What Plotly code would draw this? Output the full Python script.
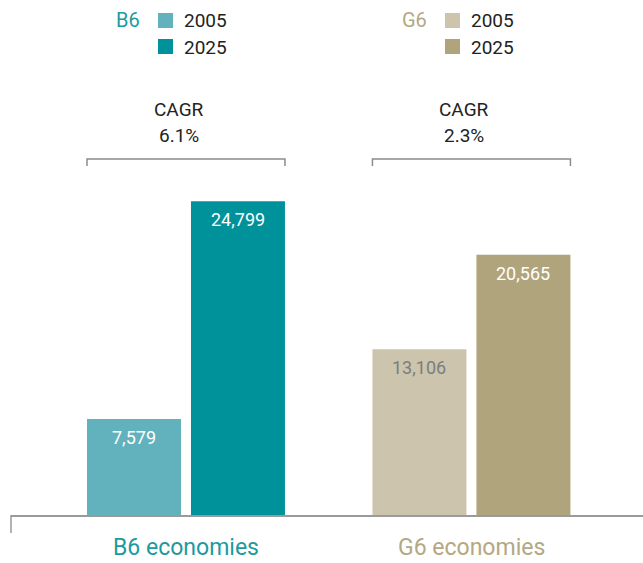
import plotly.graph_objects as go

# ---- data ----
groups = ["B6 economies", "G6 economies"]
group_keys = ["B6", "G6"]
years = ["2005", "2025"]
gdp_2005 = [7579, 13106]
gdp_2025 = [24799, 20565]
cagr = ["6.1%", "2.3%"]

# ---- styling ----
colors_2005 = ["#61b2bc", "#ccc4ac"]
colors_2025 = ["#00929b", "#b0a47c"]
group_text_colors = ["#1b9aa2", "#b3a883"]
label_colors_2005 = ["#ffffff", "#7d7d7d"]
label_colors_2025 = ["#ffffff", "#ffffff"]

W, H = 643, 563
M_L, M_R, M_T, M_B = 11, 0, 0, 48
PLOT_W = W - M_L - M_R
PLOT_H = H - M_T - M_B
X_RANGE = [-0.613, 1.601]
Y_RANGE = [0, 40700]
BARGAP = 0.2715
BARGROUPGAP = 0.096

NUM_FONT = "Roboto, Arial, sans-serif"
CAT_FONT = "Roboto, Arial, sans-serif"
AXIS_GREY = "#9a9a9a"


def px_x(p):
    """page pixel (from left) -> paper x"""
    return (p - M_L) / PLOT_W


def px_y(p):
    """page pixel (from top) -> paper y"""
    return (H - M_B - p) / PLOT_H


fig = go.Figure()
fig.add_trace(go.Bar(x=[0, 1], y=gdp_2005, name=years[0],
                     marker=dict(color=colors_2005, line=dict(width=0)),
                     hoverinfo="skip"))
fig.add_trace(go.Bar(x=[0, 1], y=gdp_2025, name=years[1],
                     marker=dict(color=colors_2025, line=dict(width=0)),
                     hoverinfo="skip"))

slot = (1 - BARGAP) / 2                 # one bar slot in category units
outer = slot * (1 - BARGROUPGAP / 2)    # group centre -> outer bar edge

annotations = []
shapes = []

for i, key in enumerate(group_keys):
    # value labels near the top of each bar
    for off, vals, cols in ((-slot / 2, gdp_2005, label_colors_2005),
                            (slot / 2, gdp_2025, label_colors_2025)):
        annotations.append(dict(
            x=i + off, y=vals[i], xref="x", yref="y",
            text=f"{vals[i]:,}", showarrow=False,
            yanchor="top", xanchor="center", yshift=-6,
            font=dict(family=NUM_FONT, size=18, color=cols[i])))

    # category label under the axis
    annotations.append(dict(
        x=i, y=px_y(547), xref="x", yref="paper",
        text=groups[i], showarrow=False, yanchor="middle", xanchor="center",
        font=dict(family=CAT_FONT, size=23, color=group_text_colors[i])))

    # CAGR bracket spanning the group
    y_br = px_y(159)
    y_tick = px_y(166)
    shapes.append(dict(
        type="path", xref="x", yref="paper",
        path=(f"M {i - outer},{y_tick} L {i - outer},{y_br} "
              f"L {i + outer},{y_br} L {i + outer},{y_tick}"),
        line=dict(color="#8c8c8c", width=1.5)))
    annotations.append(dict(
        x=i, y=px_y(109), xref="x", yref="paper", xshift=-7,
        text="CAGR", showarrow=False, yanchor="middle", xanchor="center",
        font=dict(family=NUM_FONT, size=19, color="#222222")))
    annotations.append(dict(
        x=i, y=px_y(135), xref="x", yref="paper", xshift=-7,
        text=cagr[i], showarrow=False, yanchor="middle", xanchor="center",
        font=dict(family=NUM_FONT, size=19, color="#222222")))

# custom legend blocks: group name + two swatches
legend_pos = [(142, 158), (429, 445)]   # (label right edge, swatch left) in px
for i, key in enumerate(group_keys):
    lbl_right, sw_left = legend_pos[i]
    annotations.append(dict(
        x=px_x(lbl_right), y=px_y(20), xref="paper", yref="paper",
        text=key, showarrow=False, xanchor="right", yanchor="middle",
        font=dict(family=NUM_FONT, size=20, color=group_text_colors[i])))
    for j, (yr, col) in enumerate(((years[0], colors_2005[i]),
                                   (years[1], colors_2025[i]))):
        top = 13 + j * 26
        shapes.append(dict(
            type="rect", xref="paper", yref="paper",
            x0=px_x(sw_left), x1=px_x(sw_left + 15),
            y0=px_y(top + 15), y1=px_y(top),
            fillcolor=col, line=dict(width=0)))
        annotations.append(dict(
            x=px_x(sw_left + 24), y=px_y(top + 8), xref="paper", yref="paper",
            text=yr, showarrow=False, xanchor="left", yanchor="middle",
            font=dict(family=NUM_FONT, size=19, color="#222222")))

# small end tick at the left of the baseline
shapes.append(dict(type="line", xref="paper", yref="paper",
                   x0=0, x1=0, y0=px_y(515), y1=px_y(533),
                   line=dict(color=AXIS_GREY, width=1.5)))

fig.update_layout(
    width=W, height=H,
    margin=dict(l=M_L, r=M_R, t=M_T, b=M_B, pad=0),
    paper_bgcolor="white", plot_bgcolor="white",
    barmode="group", bargap=BARGAP, bargroupgap=BARGROUPGAP,
    showlegend=False,
    xaxis=dict(range=X_RANGE, showgrid=False, zeroline=False,
               showticklabels=False, ticks="", showline=True,
               linecolor=AXIS_GREY, linewidth=1.5, fixedrange=True),
    yaxis=dict(range=Y_RANGE, showgrid=False, zeroline=False,
               showticklabels=False, ticks="", showline=False,
               fixedrange=True),
    annotations=annotations,
    shapes=shapes,
)

fig.write_html("out.html", config={"displayModeBar": False})
